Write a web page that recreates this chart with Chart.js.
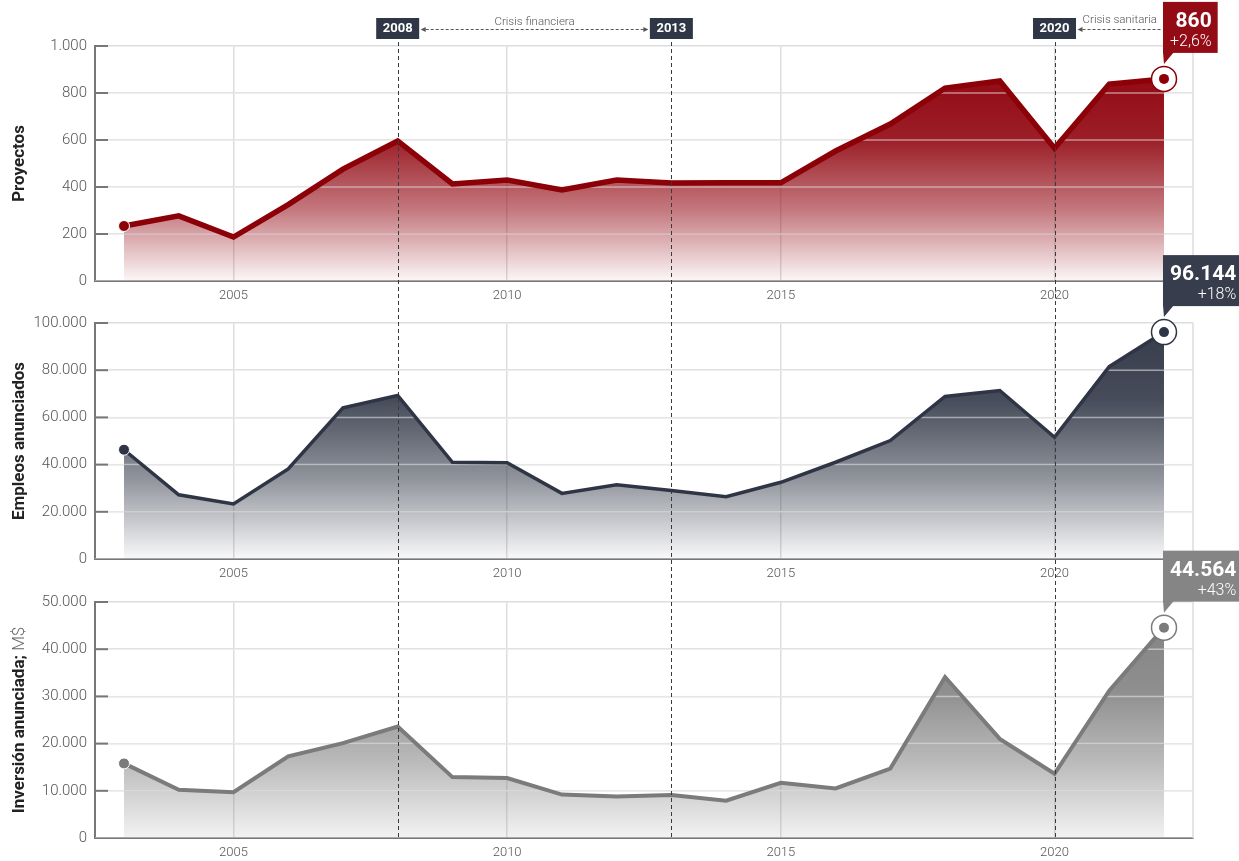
<!DOCTYPE html>
<html>
<head>
<meta charset="utf-8">
<script src="https://cdn.jsdelivr.net/npm/chart.js@4/dist/chart.umd.min.js"></script>
<style>
  body { margin: 0; background: #fff; }
  #wrap { position: relative; width: 1239px; height: 861px; overflow: hidden; }
  .panel { position: absolute; left: 0; width: 1239px; }
</style>
</head>
<body>
<div id="wrap">
  <div class="panel" style="top:1px;height:300px"><canvas id="c1"></canvas></div>
  <div class="panel" style="top:239px;height:340px"><canvas id="c2"></canvas></div>
  <div class="panel" style="top:517px;height:344px"><canvas id="c3"></canvas></div>
</div>
<script>
const years = ['2003', '2004', '2005', '2006', '2007', '2008', '2009', '2010', '2011', '2012',
               '2013', '2014', '2015', '2016', '2017', '2018', '2019', '2020', '2021', '2022'];
const proyectos = [234, 277, 187, 325, 476, 596, 413, 430, 387, 430,
                   417, 418, 418, 553, 668, 821, 851, 565, 838, 860];
const empleos = [46300, 27200, 23300, 38200, 64100, 69300, 41000, 40800, 27800, 31500,
                 29000, 26400, 32500, 41000, 50200, 68900, 71400, 51600, 81500, 96144];
const inversion = [15800, 10200, 9700, 17300, 20100, 23600, 12900, 12700, 9200, 8800,
                   9100, 7900, 11700, 10500, 14700, 34100, 21000, 13600, 31200, 44564];
const cambios = ['+2,6%', '+18%', '+43%'];
const yearTicks = [2005, 2010, 2015, 2020];

const eventYears = ['2008', '2013', '2020'];
const crisisLabels = ['Crisis financiera', 'Crisis sanitaria'];
const crisisFrom = ['2008', '2020'];
const crisisTo = ['2013', '2022'];

const FONT = 'Roboto, "Noto Sans", Arial, sans-serif';

function fmt(v) {
    return String(Math.round(v)).replace(/\B(?=(\d{3})+(?!\d))/g, '.');
}

function rgba(c, a) {
    return `rgba(${c[0]},${c[1]},${c[2]},${a})`;
}

function areaFill(c, endAlpha) {
    return ctx => {
        const chart = ctx.chart;
        const area = chart.chartArea;
        if (!area) return rgba(c, 0.5);
        const vals = chart.data.datasets[0].data.map(d => d.y);
        const top = chart.scales.y.getPixelForValue(Math.max(...vals));
        const g = chart.ctx.createLinearGradient(0, top, 0, area.bottom);
        g.addColorStop(0, rgba(c, 1));
        g.addColorStop(0.3, rgba(c, 0.92));
        g.addColorStop(0.65, rgba(c, 0.55));
        g.addColorStop(1, rgba(c, endAlpha));
        return g;
    };
}

function arrowHead(ctx, x, y, dir) {
    ctx.beginPath();
    ctx.moveTo(x, y);
    ctx.lineTo(x - dir * 5, y - 2.5);
    ctx.lineTo(x - dir * 5, y + 2.5);
    ctx.closePath();
    ctx.fill();
}

// extra drawing: gridlines over the area, axis ticks, crisis markers, callout, y title
const decor = {
    id: 'decor',
    afterDatasetDraw(chart, args) {
        if (args.index !== 1) return;
        const { ctx, chartArea: a, scales: { y } } = chart;
        ctx.save();
        ctx.beginPath();
        ctx.rect(a.left, a.top, a.right - a.left, a.bottom - a.top);
        ctx.clip();
        ctx.strokeStyle = 'rgba(238,238,238,0.55)';
        ctx.lineWidth = 1.5;
        y.ticks.forEach(t => {
            const py = y.getPixelForValue(t.value);
            ctx.beginPath();
            ctx.moveTo(a.left, py);
            ctx.lineTo(a.right, py);
            ctx.stroke();
        });
        ctx.restore();
    },
    afterDraw(chart, args, o) {
        const { ctx, chartArea: a, scales: { x, y } } = chart;
        ctx.save();

        // right border
        ctx.strokeStyle = '#ddd';
        ctx.lineWidth = 1.5;
        ctx.beginPath();
        ctx.moveTo(a.right, a.top);
        ctx.lineTo(a.right, a.bottom);
        ctx.stroke();

        // short ticks inside the y axis
        ctx.strokeStyle = '#777';
        ctx.lineWidth = 2;
        y.ticks.forEach(t => {
            if (t.value === 0) return;
            const py = y.getPixelForValue(t.value);
            ctx.beginPath();
            ctx.moveTo(a.left, py);
            ctx.lineTo(a.left + 13, py);
            ctx.stroke();
        });

        // crisis lines
        ctx.strokeStyle = '#3a3a3a';
        ctx.lineWidth = 1;
        ctx.setLineDash([4, 3]);
        ctx.lineDashOffset = (o.absTop + o.lineFrom) % 7;
        eventYears.forEach(yr => {
            const px = Math.round(x.getPixelForValue(+yr)) + 0.5;
            ctx.beginPath();
            ctx.moveTo(px, o.lineFrom);
            ctx.lineTo(px, o.lineTo);
            ctx.stroke();
        });
        ctx.setLineDash([]);

        const meta = chart.getDatasetMeta(0);
        const p = meta.data[meta.data.length - 1];

        if (o.events) {
            crisisLabels.forEach((label, i) => {
                const x1 = x.getPixelForValue(+crisisFrom[i]) + 23;
                const toEvent = eventYears.includes(crisisTo[i]);
                const x2 = toEvent ? x.getPixelForValue(+crisisTo[i]) - 23 : p.x - 2;
                ctx.strokeStyle = '#555';
                ctx.fillStyle = '#555';
                ctx.lineWidth = 1;
                ctx.setLineDash([3, 2]);
                ctx.beginPath();
                ctx.moveTo(x1 + 4, 28.5);
                ctx.lineTo(toEvent ? x2 - 4 : x2, 28.5);
                ctx.stroke();
                ctx.setLineDash([]);
                arrowHead(ctx, x1, 28.5, -1);
                if (toEvent) arrowHead(ctx, x2, 28.5, 1);
                ctx.font = `300 11.5px ${FONT}`;
                ctx.textAlign = 'center';
                ctx.textBaseline = 'alphabetic';
                ctx.fillText(label, (x1 + x2) / 2, toEvent ? 24 : 22);
            });
            eventYears.forEach(yr => {
                const px = x.getPixelForValue(+yr);
                ctx.fillStyle = '#2f3646';
                ctx.fillRect(px - 21.5, 17, 43, 21);
                ctx.fillStyle = '#fff';
                ctx.font = `bold 13px ${FONT}`;
                ctx.textAlign = 'center';
                ctx.textBaseline = 'middle';
                ctx.fillText(yr, px, 28);
            });
        }

        // last point ring and dot
        ctx.beginPath();
        ctx.arc(p.x, p.y, 12.5, 0, Math.PI * 2);
        ctx.fillStyle = '#fff';
        ctx.fill();
        ctx.strokeStyle = o.ring;
        ctx.lineWidth = 1.5;
        ctx.stroke();
        ctx.beginPath();
        ctx.arc(p.x, p.y, 5, 0, Math.PI * 2);
        ctx.fillStyle = o.ring;
        ctx.fill();

        // callout
        const data = chart.data.datasets[0].data;
        const valText = fmt(data[data.length - 1].y);
        ctx.font = `bold 21px ${FONT}`;
        const w1 = ctx.measureText(valText).width;
        ctx.font = `300 16px ${FONT}`;
        const w2 = ctx.measureText(o.change).width;
        const tw = Math.max(w1, w2);
        const bx = p.x - 1;
        const bb = p.y - 26;
        const bt = bb - 51;
        ctx.fillStyle = o.box;
        ctx.fillRect(bx, bt, tw + 13, 51);
        ctx.beginPath();
        ctx.moveTo(bx, bb - 1);
        ctx.lineTo(bx + 11, bb - 1);
        ctx.lineTo(bx + 1, bb + 11);
        ctx.closePath();
        ctx.fill();
        ctx.fillStyle = '#fff';
        ctx.textAlign = 'right';
        ctx.textBaseline = 'alphabetic';
        ctx.font = `bold 21px ${FONT}`;
        ctx.fillText(valText, bx + tw + 7, bt + 25);
        ctx.font = `300 16px ${FONT}`;
        ctx.fillText(o.change, bx + tw + 7, bt + 44);

        // y title
        ctx.translate(20, (a.top + a.bottom) / 2);
        ctx.rotate(-Math.PI / 2);
        ctx.font = `bold 17px ${FONT}`;
        const tw1 = ctx.measureText(o.title).width;
        ctx.font = `300 17px ${FONT}`;
        const tw2 = o.titleLight ? ctx.measureText(o.titleLight).width : 0;
        const start = -(tw1 + tw2) / 2;
        ctx.textAlign = 'left';
        ctx.textBaseline = 'middle';
        ctx.fillStyle = '#222';
        ctx.font = `bold 17px ${FONT}`;
        ctx.fillText(o.title, start, 0);
        if (o.titleLight) {
            ctx.fillStyle = '#666';
            ctx.font = `300 17px ${FONT}`;
            ctx.fillText(o.titleLight, start + tw1, 0);
        }
        ctx.restore();
    }
};

function makePanel(id, values, cfg) {
    const points = values.map((v, i) => ({ x: +years[i], y: v }));
    return new Chart(document.getElementById(id), {
        type: 'line',
        data: {
            datasets: [{
                data: points,
                borderColor: rgba(cfg.line, 1),
                borderWidth: cfg.width,
                borderJoinStyle: 'miter',
                fill: false,
                tension: 0,
                pointRadius: ctx => ctx.dataIndex === 0 ? 5.5 : 0,
                pointBackgroundColor: rgba(cfg.line, 1),
                pointBorderColor: '#fff',
                pointBorderWidth: 1
            }, {
                data: points,
                borderWidth: 0,
                fill: 'start',
                backgroundColor: areaFill(cfg.fill, cfg.endAlpha),
                pointRadius: 0,
                tension: 0
            }]
        },
        options: {
            responsive: true,
            maintainAspectRatio: false,
            animation: false,
            layout: { padding: { top: cfg.padTop, right: 46, bottom: cfg.padBottom, left: 0 } },
            plugins: {
                legend: { display: false },
                tooltip: { enabled: false },
                decor: {
                    title: cfg.title,
                    titleLight: cfg.titleLight,
                    ring: rgba(cfg.line, 1),
                    box: rgba(cfg.fill, 1),
                    change: cfg.change,
                    events: cfg.events,
                    absTop: cfg.absTop,
                    lineFrom: cfg.lineFrom,
                    lineTo: cfg.lineTo
                }
            },
            scales: {
                x: {
                    type: 'linear',
                    min: 2002.47,
                    max: 2022.53,
                    afterBuildTicks: s => { s.ticks = yearTicks.map(v => ({ value: v })); },
                    grid: { color: '#ddd', lineWidth: 1.5, drawTicks: false },
                    border: { color: '#777', width: 2 },
                    ticks: {
                        autoSkip: false,
                        maxRotation: 0,
                        padding: 7,
                        color: '#555',
                        font: { family: FONT, size: 13, weight: 300 },
                        callback: v => String(v)
                    },
                    afterFit: s => { s.height = 20; }
                },
                y: {
                    min: 0,
                    max: cfg.max,
                    grid: { color: '#ddd', lineWidth: 1.5, drawTicks: false },
                    border: { color: '#777', width: 2 },
                    ticks: {
                        stepSize: cfg.step,
                        padding: 8,
                        color: '#555',
                        font: { family: FONT, size: 15, weight: 300 },
                        callback: v => fmt(v)
                    },
                    afterFit: s => { s.width = 95; }
                }
            }
        },
        plugins: [decor]
    });
}

makePanel('c1', proyectos, {
    title: 'Proyectos', titleLight: '', change: cambios[0],
    line: [140, 0, 8], fill: [147, 11, 21], width: 5.5, endAlpha: 0.03,
    max: 1000, step: 200, padTop: 45, padBottom: 0,
    events: true, absTop: 1, lineFrom: 38, lineTo: 300
});
makePanel('c2', empleos, {
    title: 'Empleos anunciados', titleLight: '', change: cambios[1],
    line: [47, 53, 69], fill: [55, 61, 76], width: 3.5, endAlpha: 0.03,
    max: 100000, step: 20000, padTop: 84, padBottom: 0,
    events: false, absTop: 239, lineFrom: 62, lineTo: 340
});
makePanel('c3', inversion, {
    title: 'Inversión anunciada;', titleLight: ' M$', change: cambios[2],
    line: [123, 123, 123], fill: [133, 133, 133], width: 4, endAlpha: 0.1,
    max: 50000, step: 10000, padTop: 85, padBottom: 3,
    events: false, absTop: 517, lineFrom: 61, lineTo: 321
});
</script>
</body>
</html>
